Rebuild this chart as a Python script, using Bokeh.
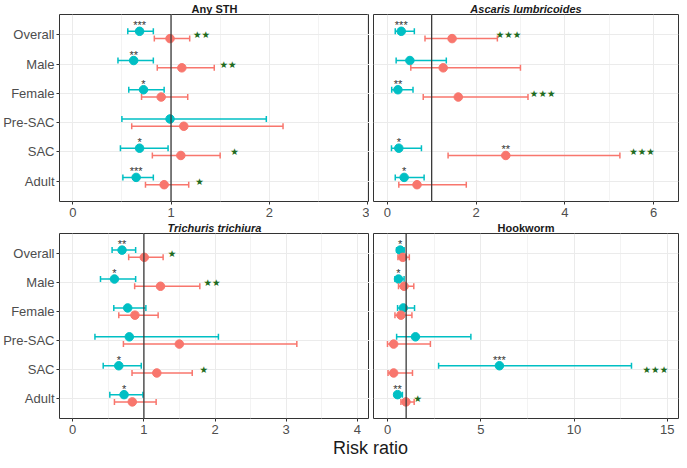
import math
from bokeh.plotting import figure
from bokeh.models import ColumnDataSource, Span, FixedTicker, Title, FactorRange, Range1d, Label
from bokeh.transform import dodge
from bokeh.layouts import column, row
from bokeh.core.properties import value
from bokeh.embed import file_html
from bokeh.resources import INLINE

categories = ["Overall", "Male", "Female", "Pre-SAC", "SAC", "Adult"]

# ---- Any STH ----
sth_blue_rr = [0.68, 0.62, 0.72, 0.99, 0.68, 0.645]
sth_blue_lo = [0.56, 0.46, 0.57, 0.50, 0.485, 0.51]
sth_blue_hi = [0.82, 0.82, 0.93, 1.97, 0.97, 0.82]
sth_blue_sig = ["***", "**", "*", "", "*", "***"]
sth_red_rr = [0.99, 1.11, 0.90, 1.13, 1.10, 0.93]
sth_red_lo = [0.83, 0.86, 0.70, 0.60, 0.81, 0.74]
sth_red_hi = [1.19, 1.44, 1.17, 2.14, 1.50, 1.18]
sth_red_sig = ["", "", "", "", "", ""]
sth_green = ["**", "**", "", "", "*", "*"]
sth_green_x = [1.31, 1.58, None, None, 1.645, 1.29]

# ---- Ascaris lumbricoides ----
asc_blue_rr = [0.315, 0.51, 0.24, None, 0.26, 0.38]
asc_blue_lo = [0.18, 0.20, 0.10, None, 0.095, 0.18]
asc_blue_hi = [0.61, 1.33, 0.58, None, 0.77, 0.83]
asc_blue_sig = ["***", "", "**", "", "*", "*"]
asc_red_rr = [1.46, 1.26, 1.60, None, 2.67, 0.67]
asc_red_lo = [0.85, 0.53, 0.81, None, 1.37, 0.26]
asc_red_hi = [2.48, 3.00, 3.17, None, 5.24, 1.78]
asc_red_sig = ["", "", "", "", "**", ""]
asc_green = ["***", "", "***", "", "***", ""]
asc_green_x = [2.73, None, 3.50, None, 5.74, None]

# ---- Trichuris trichiura ----
tri_blue_rr = [0.693, 0.586, 0.772, 0.795, 0.647, 0.721]
tri_blue_lo = [0.553, 0.39, 0.577, 0.312, 0.428, 0.521]
tri_blue_hi = [0.884, 0.884, 1.028, 2.047, 0.963, 0.986]
tri_blue_sig = ["**", "*", "", "", "*", "*"]
tri_red_rr = [1.005, 1.233, 0.874, 1.498, 1.181, 0.837]
tri_red_lo = [0.786, 0.87, 0.647, 0.712, 0.833, 0.586]
tri_red_hi = [1.27, 1.786, 1.2, 3.149, 1.679, 1.172]
tri_red_sig = ["", "", "", "", "", ""]
tri_green = ["*", "**", "", "", "*", ""]
tri_green_x = [1.395, 1.958, None, None, 1.842, None]

# ---- Hookworm ----
hk_blue_rr = [0.68, 0.59, 0.85, 1.50, 6.0, 0.54]
hk_blue_lo = [0.49, 0.40, 0.54, 0.49, 2.74, 0.38]
hk_blue_hi = [0.89, 0.89, 1.45, 4.47, 13.08, 0.80]
hk_blue_sig = ["*", "*", "", "", "***", "**"]
hk_red_rr = [0.82, 0.89, 0.72, 0.33, 0.33, 0.99]
hk_red_lo = [0.56, 0.59, 0.40, 0.0, 0.03, 0.72]
hk_red_hi = [1.17, 1.41, 1.31, 2.30, 1.34, 1.43]
hk_red_sig = ["", "", "", "", "", ""]
hk_green = ["", "", "", "", "***", "*"]
hk_green_x = [None, None, None, None, 14.36, 1.62]

BLUE = "#00BFC4"
RED = "#F8766D"
GREEN = "#1E6B1E"
FONT = "Liberation Sans"


def series_source(rr, lo, hi):
    d = dict(cat=[], rr=[], lo=[], hi=[])
    for c, a, b, h in zip(categories, rr, lo, hi):
        if a is None:
            continue
        d["cat"].append(c); d["rr"].append(a); d["lo"].append(b); d["hi"].append(h)
    return ColumnDataSource(d)


def sig_source(rr, sig):
    d = dict(cat=[], rr=[], sig=[])
    for c, a, s in zip(categories, rr, sig):
        if a is None or not s:
            continue
        d["cat"].append(c); d["rr"].append(a); d["sig"].append(s)
    return ColumnDataSource(d)


def panel(title, style, blue, red, green, gx, xr, ticks, minor,
          fw, fh, labels, min_left, min_right):
    p = figure(x_range=Range1d(*xr),
               y_range=FactorRange(factors=list(reversed(categories)),
                                   range_padding=0.2, range_padding_units="absolute"),
               frame_width=fw, frame_height=fh,
               min_border_left=min_left, min_border_right=min_right,
               min_border_top=0, min_border_bottom=0,
               toolbar_location=None, output_backend="svg",
               background_fill_color="white", border_fill_color="white")
    p.add_layout(Title(text=title, align="center", text_font=FONT,
                       text_font_size="11px", text_font_style=style,
                       text_color="#1a1a1a", standoff=0, offset=0), "above")
    tk = FixedTicker(ticks=ticks, minor_ticks=minor)
    p.xaxis.ticker = tk
    p.xgrid.ticker = tk
    p.xgrid.grid_line_color = "#EBEBEB"
    p.xgrid.minor_grid_line_color = "#F3F3F3"
    p.ygrid.grid_line_color = "#EBEBEB"
    p.xaxis.minor_tick_line_color = None
    p.axis.axis_line_color = None
    p.axis.major_tick_line_color = "#333333"
    p.axis.major_tick_in = 0
    p.axis.major_tick_out = 3
    p.axis.major_label_text_font = FONT
    p.axis.major_label_text_color = "#4D4D4D"
    p.axis.major_label_text_font_size = "13px"
    p.xaxis.major_label_standoff = 2
    p.yaxis.major_label_standoff = 2
    if not labels:
        p.yaxis.visible = False
    p.outline_line_color = "#333333"
    p.outline_line_width = 1

    p.add_layout(Span(location=1, dimension="height", line_color="#3A3A3A", line_width=1.3))

    for (rr, lo, hi, sig), off, col in ((blue, 0.125, BLUE), (red, -0.125, RED)):
        src = series_source(rr, lo, hi)
        y = dodge("cat", off, range=p.y_range)
        p.segment(x0="lo", y0=y, x1="hi", y1=y, source=src, line_color=col, line_width=1.5)
        for f in ("lo", "hi"):
            p.scatter(x=f, y=y, marker="dash", angle=math.pi / 2, size=6,
                      line_color=col, line_width=1.5, source=src)
        p.scatter(x="rr", y=y, marker="circle", size=8.5, fill_color=col,
                  line_color=col, source=src)
        ssrc = sig_source(rr, sig)
        if ssrc.data["sig"]:
            p.text(x="rr", y=y, text="sig", source=ssrc, text_align="center",
                   text_baseline="middle", y_offset=-6, text_font=value(FONT),
                   text_font_size="11px", text_color="#333333")

    gd = dict(cat=[], gx=[], g=[])
    for c, g, x in zip(categories, green, gx):
        if g:
            gd["cat"].append(c); gd["gx"].append(x); gd["g"].append(g.replace("*", "\u2605"))
    p.text(x="gx", y="cat", text="g", source=ColumnDataSource(gd), text_align="center",
           text_baseline="middle", text_font=value("DejaVu Sans"),
           text_font_size="9.5px", text_color=GREEN)
    return p


p1 = panel("Any STH", "bold",
           (sth_blue_rr, sth_blue_lo, sth_blue_hi, sth_blue_sig),
           (sth_red_rr, sth_red_lo, sth_red_hi, sth_red_sig),
           sth_green, sth_green_x, (-0.135, 3.02), [0, 1, 2, 3], [0.5, 1.5, 2.5],
           310, 187, True, 49, 0)
p2 = panel("Ascaris lumbricoides", "bold italic",
           (asc_blue_rr, asc_blue_lo, asc_blue_hi, asc_blue_sig),
           (asc_red_rr, asc_red_lo, asc_red_hi, asc_red_sig),
           asc_green, asc_green_x, (-0.31, 6.56), [0, 2, 4, 6], [1, 3, 5],
           305, 187, False, 4, 1)
p3 = panel("Trichuris trichiura", "bold italic",
           (tri_blue_rr, tri_blue_lo, tri_blue_hi, tri_blue_sig),
           (tri_red_rr, tri_red_lo, tri_red_hi, tri_red_sig),
           tri_green, tri_green_x, (-0.186, 4.17), [0, 1, 2, 3, 4], [0.5, 1.5, 2.5, 3.5],
           310, 185, True, 49, 0)
p4 = panel("Hookworm", "bold",
           (hk_blue_rr, hk_blue_lo, hk_blue_hi, hk_blue_sig),
           (hk_red_rr, hk_red_lo, hk_red_hi, hk_red_sig),
           hk_green, hk_green_x, (-0.75, 15.6), [0, 5, 10, 15], [2.5, 7.5, 12.5],
           305, 185, False, 4, 1)

lab = figure(width=669, height=22, x_range=Range1d(0, 669), y_range=Range1d(0, 22),
             x_axis_type=None, y_axis_type=None, toolbar_location=None,
             output_backend="svg", min_border=0, outline_line_color=None)
lab.grid.visible = False
lab.add_layout(Label(x=370, y=11, text="Risk ratio", text_align="center",
                     text_baseline="middle", text_font_size="18px",
                     text_font=FONT, text_color="#1a1a1a"))

layout = column(row(p1, p2), row(p3, p4), lab)
open("out.html", "w").write(file_html(layout, INLINE))
